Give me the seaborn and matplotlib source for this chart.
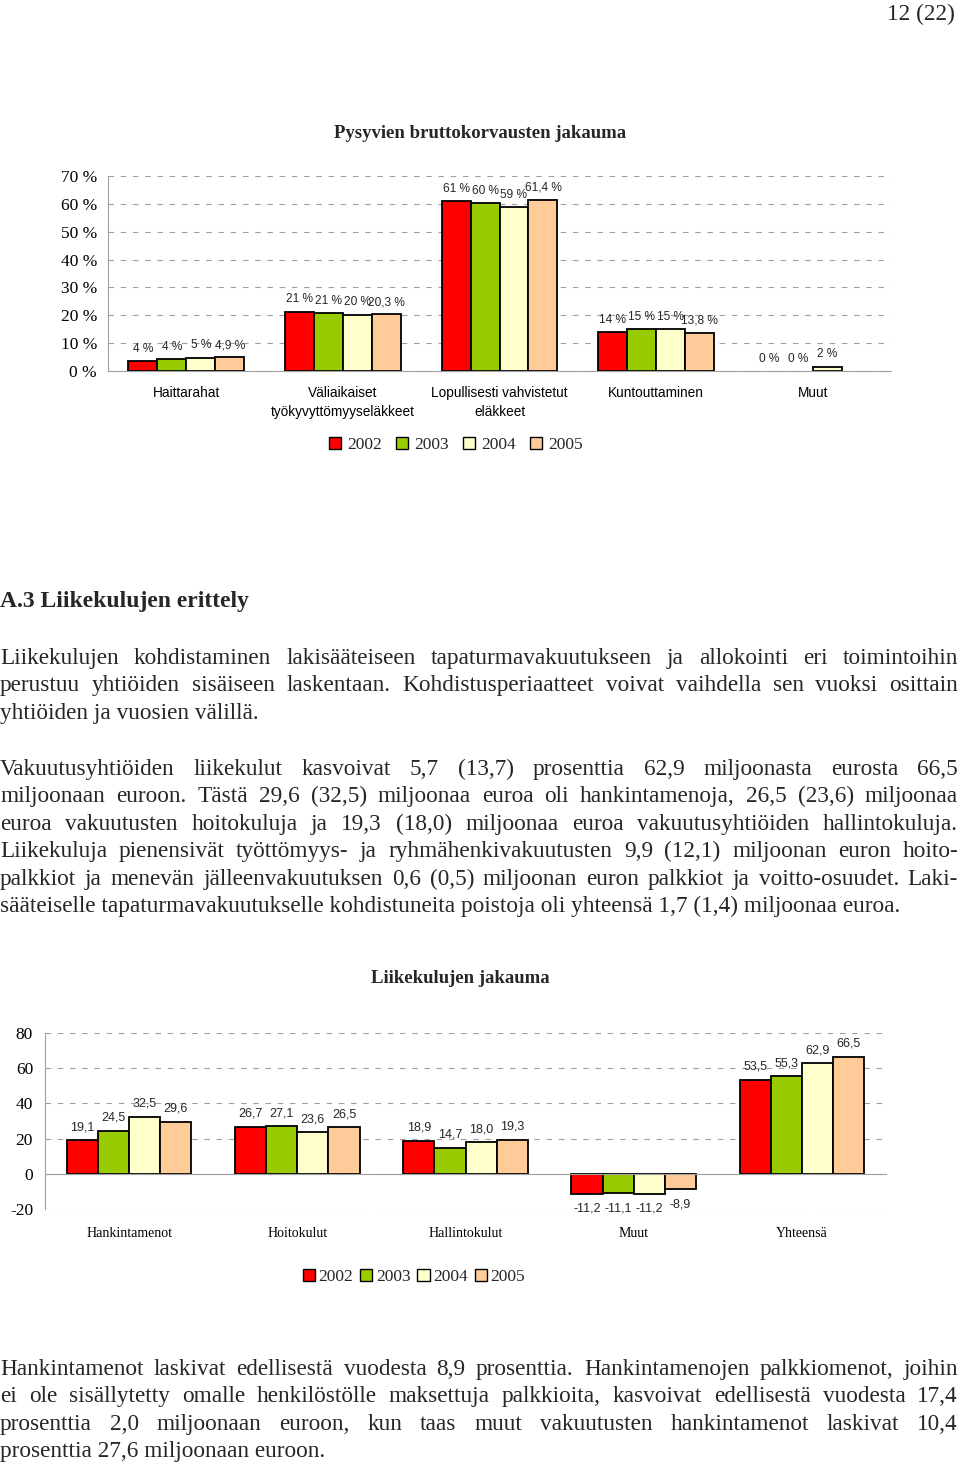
import matplotlib
matplotlib.use('Agg')
import matplotlib.pyplot as plt
import seaborn as sns
import pandas as pd
import numpy as np
from matplotlib.patches import Patch

# ---------------- data ----------------
years = ['2002', '2003', '2004', '2005']
year_colors = ['#FF0000', '#99CC00', '#FFFFCC', '#FFCC99']

cats1 = ['Haittarahat', 'Väliaikaiset\ntyökyvyttömyyseläkkeet',
         'Lopullisesti vahvistetut\neläkkeet', 'Kuntouttaminen', 'Muut']
v2002_1 = [3.6, 21.3, 60.9, 13.9, 0.0]
v2003_1 = [4.3, 20.8, 60.3, 15.0, 0.0]
v2004_1 = [4.8, 20.2, 58.8, 15.0, 1.6]
v2005_1 = [4.9, 20.3, 61.4, 13.8, np.nan]
lab2002_1 = ['4 %', '21 %', '61 %', '14 %', '0 %']
lab2003_1 = ['4 %', '21 %', '60 %', '15 %', '0 %']
lab2004_1 = ['5 %', '20 %', '59 %', '15 %', '2 %']
lab2005_1 = ['4,9 %', '20,3 %', '61,4 %', '13,8 %', '']
yticks1 = [0, 10, 20, 30, 40, 50, 60, 70]
ytick_labels1 = ['0 %', '10 %', '20 %', '30 %', '40 %', '50 %', '60 %', '70 %']

cats2 = ['Hankintamenot', 'Hoitokulut', 'Hallintokulut', 'Muut', 'Yhteensä']
v2002_2 = [19.1, 26.7, 18.9, -11.2, 53.5]
v2003_2 = [24.5, 27.1, 14.7, -11.1, 55.3]
v2004_2 = [32.5, 23.6, 18.0, -11.2, 62.9]
v2005_2 = [29.6, 26.5, 19.3, -8.9, 66.5]
yticks2 = [-20, 0, 20, 40, 60, 80]

title1 = 'Pysyvien bruttokorvausten jakauma'
title2 = 'Liikekulujen jakauma'
page_no = '12 (22)'
heading = 'A.3 Liikekulujen erittely'
para1 = [
    ('Liikekulujen kohdistaminen lakisääteiseen tapaturmavakuutukseen ja allokointi eri toimintoihin', True),
    ('perustuu yhtiöiden sisäiseen laskentaan. Kohdistusperiaatteet voivat vaihdella sen vuoksi osittain', True),
    ('yhtiöiden ja vuosien välillä.', False),
]
para2 = [
    ('Vakuutusyhtiöiden liikekulut kasvoivat 5,7 (13,7) prosenttia 62,9 miljoonasta eurosta 66,5', True),
    ('miljoonaan euroon. Tästä 29,6 (32,5) miljoonaa euroa oli hankintamenoja, 26,5 (23,6) miljoonaa', True),
    ('euroa vakuutusten hoitokuluja ja 19,3 (18,0) miljoonaa euroa vakuutusyhtiöiden hallintokuluja.', True),
    ('Liikekuluja pienensivät työttömyys- ja ryhmähenkivakuutusten 9,9 (12,1) miljoonan euron hoito-', True),
    ('palkkiot ja menevän jälleenvakuutuksen 0,6 (0,5) miljoonan euron palkkiot ja voitto-osuudet. Laki-', True),
    ('sääteiselle tapaturmavakuutukselle kohdistuneita poistoja oli yhteensä 1,7 (1,4) miljoonaa euroa.', False),
]
para3 = [
    ('Hankintamenot laskivat edellisestä vuodesta 8,9 prosenttia. Hankintamenojen palkkiomenot, joihin', True),
    ('ei ole sisällytetty omalle henkilöstölle maksettuja palkkioita, kasvoivat edellisestä vuodesta 17,4', True),
    ('prosenttia 2,0 miljoonaan euroon, kun taas muut vakuutusten hankintamenot laskivat 10,4', True),
    ('prosenttia 27,6 miljoonaan euroon.', False),
]

# ---------------- setup ----------------
sns.set_style('white')
SERIF = ['Liberation Serif', 'DejaVu Serif']
SANS = ['Liberation Sans', 'DejaVu Sans']
plt.rcParams['font.family'] = SERIF

W, H = 960, 1465
fig = plt.figure(figsize=(W / 100, H / 100), dpi=100)
fig.patch.set_facecolor('white')
renderer = fig.canvas.get_renderer()
GRAY = '#A0A0A0'
palette = dict(zip(years, year_colors))
GROUP_W = 0.74


def fx(x):
    return x / W


def fy(y):
    return 1 - y / H


def make_df(cats, series):
    rows = []
    for yr, vals in zip(years, series):
        for c, v in zip(cats, vals):
            if not np.isnan(v):
                rows.append({'cat': c, 'year': yr, 'value': v})
    return pd.DataFrame(rows)


def style_axes(ax, cats, yticks, ytl, ylim, xpad, ypad, xfont, xsize, ysize, lsp):
    ax.set_xlim(-0.5, len(cats) - 0.5)
    ax.set_ylim(*ylim)
    ax.set_xlabel('')
    ax.set_ylabel('')
    ax.set_yticks(yticks)
    ax.set_yticklabels(ytl, family=SERIF, fontsize=ysize)
    ax.set_xticks(range(len(cats)))
    ax.set_xticklabels(cats, family=xfont, fontsize=xsize, linespacing=lsp)
    ax.set_xticks(np.arange(-0.5, len(cats), 1.0), minor=True)
    ax.tick_params(axis='x', which='major', length=0, pad=xpad, colors='black')
    ax.tick_params(axis='x', which='minor', length=3.6, width=0.8, color=GRAY, direction='out')
    ax.tick_params(axis='y', length=3.6, width=0.8, color=GRAY, direction='out',
                   pad=ypad, labelcolor='black')
    for s in ['top', 'right']:
        ax.spines[s].set_visible(False)
    for s in ['left', 'bottom']:
        ax.spines[s].set_color(GRAY)
        ax.spines[s].set_linewidth(0.8)
    ax.yaxis.grid(True, linestyle=(0, (5, 6)), color=GRAY, linewidth=0.8)
    ax.xaxis.grid(False)
    ax.set_axisbelow(True)
    ax.set_facecolor('white')


def annotate_bars(ax, labels, size, up, down):
    for p in ax.patches:
        h = p.get_height()
        cx = p.get_x() + p.get_width() / 2
        ci = int(round(cx))
        hi = int(round((cx - ci + GROUP_W / 2 - GROUP_W / 8) / (GROUP_W / 4)))
        if np.isnan(h):
            continue
        if h == 0:
            p.set_linewidth(0)
        txt = labels[hi][ci]
        if not txt:
            continue
        if h >= 0:
            ax.annotate(txt, (cx, h), xytext=(0, up), textcoords='offset points',
                        ha='center', va='bottom', family=SANS, fontsize=size)
        else:
            ax.annotate(txt, (cx, h), xytext=(0, -down), textcoords='offset points',
                        ha='center', va='top', family=SANS, fontsize=size)


# ---------------- chart 1 ----------------
ax1 = fig.add_axes([fx(108), fy(371), fx(891) - fx(108), (371 - 176) / H])
df1 = make_df(cats1, [v2002_1, v2003_1, v2004_1, v2005_1])
sns.barplot(data=df1, x='cat', y='value', hue='year', order=cats1, hue_order=years,
            palette=palette, width=GROUP_W, gap=0, saturation=1, edgecolor='black',
            linewidth=1.3, errorbar=None, legend=False, ax=ax1)
style_axes(ax1, cats1, yticks1, ytick_labels1, (0, 70), xpad=11, ypad=4.3,
           xfont=SANS, xsize=9.8, ysize=12.5, lsp=1.4)
annotate_bars(ax1, [lab2002_1, lab2003_1, lab2004_1, lab2005_1], 8.6, 4.5, 6)

fig.text(fx(480), fy(138), title1, ha='center', va='baseline', family=SERIF,
         fontsize=13.5, fontweight='bold')

handles = [Patch(facecolor=c, edgecolor='black', linewidth=1.0) for c in year_colors]
fig.legend(handles, years, loc='center', bbox_to_anchor=(fx(456), fy(445)), ncol=4,
           frameon=False, handlelength=0.7, handleheight=0.7, handletextpad=0.35,
           columnspacing=0.8, prop={'family': SERIF, 'size': 12.5})

# ---------------- chart 2 ----------------
ax2 = fig.add_axes([fx(45), fy(1209), fx(886) - fx(45), (1209 - 1033) / H])
df2 = make_df(cats2, [v2002_2, v2003_2, v2004_2, v2005_2])
sns.barplot(data=df2, x='cat', y='value', hue='year', order=cats2, hue_order=years,
            palette=palette, width=GROUP_W, gap=0, saturation=1, edgecolor='black',
            linewidth=1.3, errorbar=None, legend=False, ax=ax2)
style_axes(ax2, cats2, yticks2, [str(t) for t in yticks2], (-20, 80), xpad=38, ypad=5,
           xfont=SERIF, xsize=14.5, ysize=12.5, lsp=1.2)
ax2.spines['bottom'].set_position(('data', 0))
labels2 = [[f'{v:.1f}'.replace('.', ',') for v in s] for s in [v2002_2, v2003_2, v2004_2, v2005_2]]
annotate_bars(ax2, labels2, 9, 5, 6.5)

fig.text(fx(460), fy(983), title2, ha='center', va='baseline', family=SERIF,
         fontsize=13.5, fontweight='bold')
fig.legend(handles, years, loc='center', bbox_to_anchor=(fx(414), fy(1277)), ncol=4,
           frameon=False, handlelength=0.7, handleheight=0.7, handletextpad=0.2,
           columnspacing=0.4, prop={'family': SERIF, 'size': 12.5})

# ---------------- body text ----------------
def text_width(s, size, weight='normal'):
    t = fig.text(0, 0, s, family=SERIF, fontsize=size, fontweight=weight)
    w = t.get_window_extent(renderer).width
    t.remove()
    return w


FS = 0.5 * (10 * 325 / text_width(para3[-1][0], 10) + 10 * 258 / text_width(para1[-1][0], 10))
HS = 10 * 250 / text_width(heading, 10, 'bold')

X0, X1 = 0, 958


def draw_line(line, base, justify):
    if not justify:
        fig.text(fx(X0), fy(base), line, family=SERIF, fontsize=FS, va='baseline', ha='left')
        return
    words = line.split(' ')
    texts = [fig.text(0, 0, w, family=SERIF, fontsize=FS, va='baseline', ha='left') for w in words]
    widths = [t.get_window_extent(renderer).width for t in texts]
    gap = (X1 - X0 - sum(widths)) / (len(words) - 1)
    x = X0
    for t, w in zip(texts, widths):
        t.set_position((fx(x), fy(base)))
        x += w + gap


def draw_para(lines, first_base, step=27.45):
    for i, (line, j) in enumerate(lines):
        draw_line(line, first_base + i * step, j)


fig.text(fx(955), fy(20), page_no, family=SERIF, fontsize=FS, ha='right', va='baseline')
fig.text(fx(0), fy(607), heading, family=SERIF, fontsize=HS, fontweight='bold',
         ha='left', va='baseline')
draw_para(para1, 664)
draw_para(para2, 775)
draw_para(para3, 1375)

fig.savefig('out.png', dpi=100, facecolor='white')
